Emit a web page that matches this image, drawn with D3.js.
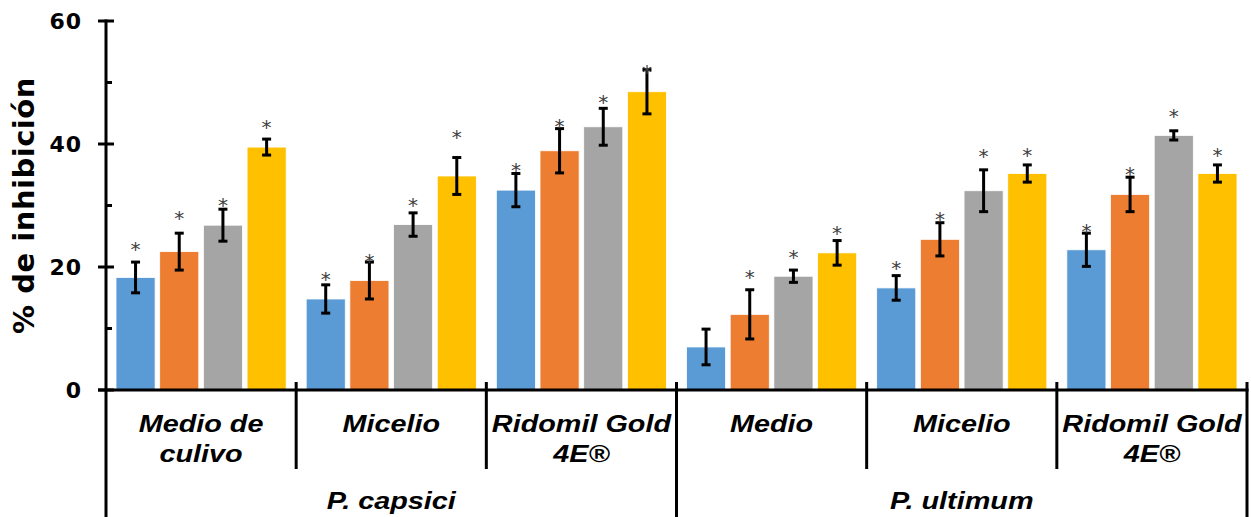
<!DOCTYPE html>
<html>
<head>
<meta charset="utf-8">
<script src="https://cdn.jsdelivr.net/npm/d3@7"></script>
<style>
  html, body { margin: 0; padding: 0; background: #fff; }
  svg { display: block; }
</style>
</head>
<body>
<svg id="chart" width="1251" height="517"></svg>
<script>
// Treatments (lower axis row) and pathogens (second row)
const treatments = [
  ["Medio de", "culivo"],
  ["Micelio"],
  ["Ridomil Gold", "4E®"],
  ["Medio"],
  ["Micelio"],
  ["Ridomil Gold", "4E®"]
];
const pathogens = ["P. capsici", "P. ultimum"];
const groupsPerPathogen = 3;

// % inhibition for the four series, one value per treatment
const serie1 = [18.3, 14.8, 32.5, 7.0, 16.6, 22.8];
const serie2 = [22.5, 17.8, 38.9, 12.3, 24.5, 31.8];
const serie3 = [26.8, 26.9, 42.8, 18.5, 32.4, 41.4];
const serie4 = [39.5, 34.8, 48.5, 22.3, 35.2, 35.2];

// Error bar half-widths
const err1 = [2.5, 2.3, 2.7, 2.9, 2.0, 2.7];
const err2 = [3.0, 3.0, 3.6, 4.0, 2.7, 2.8];
const err3 = [2.6, 1.9, 3.0, 1.0, 3.4, 0.75];
const err4 = [1.3, 3.0, 3.6, 2.0, 1.4, 1.4];

// Level (in %) at which each significance asterisk is written; null = none
const star1 = [23.7, 18.9, 36.6, null, 20.6, 26.7];
const star2 = [28.8, 21.8, 43.8, 19.2, 28.6, 35.9];
const star3 = [30.9, 30.9, 47.6, 22.5, 38.9, 45.3];
const star4 = [43.5, 42.0, 52.5, 26.3, 39.1, 39.1];

const yTicks = [0, 20, 40, 60];
const yMinor = [10, 30, 50];
const colors = ["#5B9BD5", "#ED7D31", "#A5A5A5", "#FFC000"];
const yTitle = "% de inhibición";

const series = [serie1, serie2, serie3, serie4];
const errors = [err1, err2, err3, err4];
const stars = [star1, star2, star3, star4];

const svg = d3.select("#chart");
const plotLeft = 106, plotRight = 1247, plotTop = 21, plotBottom = 390;

const y = d3.scaleLinear().domain([0, 60]).range([plotBottom, plotTop]);
const x0 = d3.scaleBand().domain(d3.range(treatments.length)).range([plotLeft, plotRight]).padding(0);
const x1 = d3.scaleBand().domain(d3.range(series.length))
  .range([10, x0.bandwidth() - 10]).paddingInner(0.105).paddingOuter(0);

const rows = [];
treatments.forEach((t, g) => {
  series.forEach((s, k) => {
    rows.push({ g, k, v: s[g], e: errors[k][g], star: stars[k][g] });
  });
});

// Bars
svg.append("g").selectAll("rect").data(rows).join("rect")
  .attr("x", d => x0(d.g) + x1(d.k))
  .attr("y", d => y(d.v))
  .attr("width", x1.bandwidth())
  .attr("height", d => y(0) - y(d.v))
  .attr("fill", d => colors[d.k])
  .attr("stroke", "#fff")
  .attr("stroke-width", 0.8);

// Error bars
const eb = svg.append("g").attr("stroke", "#000").attr("stroke-width", 3).attr("fill", "none");
rows.forEach(d => {
  const cx = x0(d.g) + x1(d.k) + x1.bandwidth() / 2;
  const y1 = y(d.v + d.e), y2 = y(d.v - d.e);
  eb.append("line").attr("x1", cx).attr("x2", cx).attr("y1", y1).attr("y2", y2);
  eb.append("line").attr("x1", cx - 4.5).attr("x2", cx + 4.5).attr("y1", y1).attr("y2", y1);
  eb.append("line").attr("x1", cx - 4.5).attr("x2", cx + 4.5).attr("y1", y2).attr("y2", y2);
});

// Significance asterisks
svg.append("g").selectAll("text").data(rows.filter(d => d.star != null)).join("text")
  .attr("x", d => x0(d.g) + x1(d.k) + x1.bandwidth() / 2)
  .attr("y", d => y(d.star) + 12)
  .attr("text-anchor", "middle")
  .attr("font-family", "'DejaVu Sans', sans-serif")
  .attr("font-size", 20)
  .attr("fill", "#404040")
  .text("*");

// Y axis
const yAxis = d3.axisLeft(y).tickValues(yTicks).tickSize(0).tickFormat(d3.format("d"));
const ya = svg.append("g").attr("transform", `translate(${plotLeft},0)`).call(yAxis);
ya.select(".domain").remove();
ya.selectAll("text")
  .attr("x", -24)
  .attr("dy", "0.36em")
  .attr("font-family", "'DejaVu Sans', Verdana, sans-serif")
  .attr("font-weight", "bold")
  .attr("font-size", 22)
  .attr("letter-spacing", 1)
  .attr("fill", "#000");

const axisG = svg.append("g").attr("stroke", "#000").attr("stroke-width", 3).attr("stroke-linecap", "butt");
axisG.append("line").attr("x1", plotLeft).attr("x2", plotLeft).attr("y1", y(60) - 1.5).attr("y2", 517);
yTicks.forEach(t => {
  axisG.append("line").attr("x1", plotLeft - 8).attr("x2", plotLeft + 8).attr("y1", y(t)).attr("y2", y(t));
});
yMinor.forEach(t => {
  axisG.append("line").attr("x1", plotLeft).attr("x2", plotLeft + 6).attr("y1", y(t)).attr("y2", y(t));
});

// X axis line and category separators
axisG.append("line").attr("x1", plotLeft - 8).attr("x2", plotRight + 1.5).attr("y1", plotBottom).attr("y2", plotBottom);
d3.range(1, treatments.length + 1).forEach(i => {
  const xs = i < treatments.length ? x0(i) : plotRight;
  const long = i % groupsPerPathogen === 0;
  axisG.append("line").attr("x1", xs).attr("x2", xs)
    .attr("y1", plotBottom - 8).attr("y2", long ? 517 : 469);
});

// Treatment labels
const labFont = "'Liberation Sans', Arial, sans-serif";
treatments.forEach((lines, g) => {
  const cx = x0(g) + x0.bandwidth() / 2;
  lines.forEach((ln, j) => {
    svg.append("text")
      .attr("transform", `translate(${cx},${432 + j * 30}) scale(1.2,1)`)
      .attr("text-anchor", "middle")
      .attr("font-family", labFont)
      .attr("font-weight", "bold")
      .attr("font-style", "italic")
      .attr("font-size", 24)
      .attr("fill", "#000")
      .text(ln);
  });
});

// Pathogen labels
pathogens.forEach((p, i) => {
  const a = x0(i * groupsPerPathogen);
  const b = i * groupsPerPathogen + groupsPerPathogen < treatments.length
    ? x0(i * groupsPerPathogen + groupsPerPathogen) : plotRight;
  svg.append("text")
    .attr("transform", `translate(${(a + b) / 2},509) scale(1.2,1)`)
    .attr("text-anchor", "middle")
    .attr("font-family", labFont)
    .attr("font-weight", "bold")
    .attr("font-style", "italic")
    .attr("font-size", 24)
    .attr("fill", "#000")
    .text(p);
});

// Y axis title
svg.append("text")
  .attr("transform", `translate(34,${(plotTop + plotBottom) / 2}) rotate(-90)`)
  .attr("text-anchor", "middle")
  .attr("font-family", "'DejaVu Sans', Verdana, sans-serif")
  .attr("font-weight", "bold")
  .attr("font-size", 29)
  .attr("letter-spacing", 0.5)
  .attr("fill", "#000")
  .text(yTitle);
</script>
</body>
</html>
